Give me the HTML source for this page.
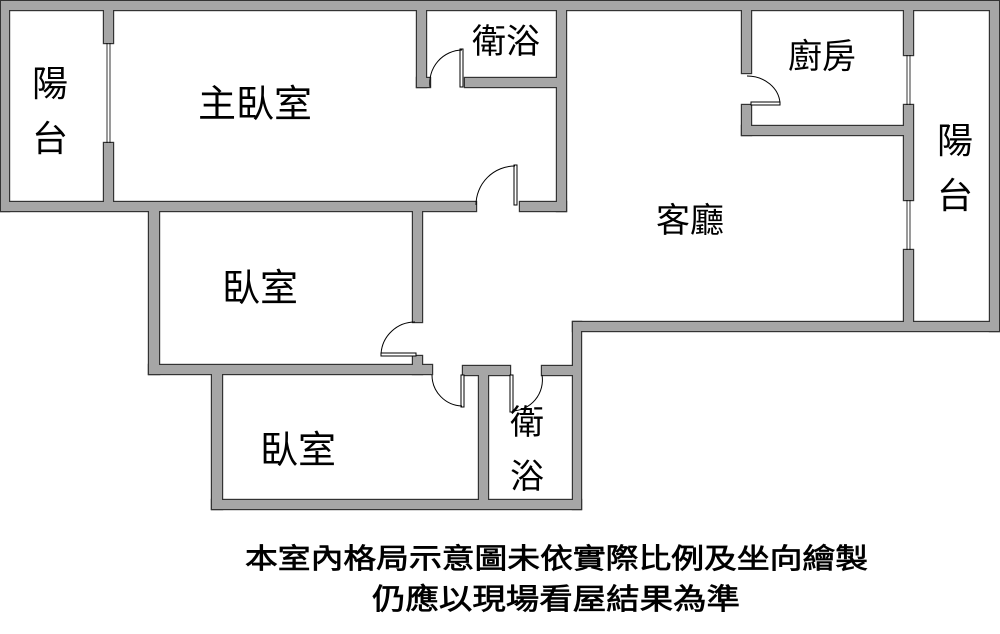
<!DOCTYPE html>
<html><head><meta charset="utf-8"><style>
html,body{margin:0;padding:0;background:#fff;}
svg{display:block;}
text{font-family:"Liberation Sans","Noto Sans CJK TC",sans-serif;fill:#000;}
.d{fill:#fff;stroke:#000;stroke-width:1;}
.a{fill:none;stroke:#000;stroke-width:1;}
.g{stroke:#000;stroke-width:0.8;}
</style></head><body>
<svg width="1000" height="634" viewBox="0 0 1000 634" xmlns="http://www.w3.org/2000/svg">
<defs>
<g id="walls">
<rect x="1" y="1" width="998" height="9"/>
<rect x="1" y="1" width="8" height="210"/>
<rect x="990" y="1" width="9" height="330"/>
<rect x="1" y="202" width="475" height="9"/>
<rect x="520" y="202" width="46" height="9"/>
<rect x="573" y="322" width="426" height="9"/>
<rect x="104" y="10" width="9" height="33"/>
<rect x="104" y="143" width="9" height="60"/>
<rect x="417" y="10" width="9" height="77"/>
<rect x="417" y="78" width="13" height="9"/>
<rect x="465" y="78" width="92" height="9"/>
<rect x="557" y="10" width="9" height="201"/>
<rect x="149" y="211" width="10" height="163"/>
<rect x="413" y="211" width="9" height="111"/>
<rect x="413" y="356" width="9" height="18"/>
<rect x="149" y="365" width="283" height="9"/>
<rect x="212" y="374" width="10" height="135"/>
<rect x="212" y="500" width="369" height="9"/>
<rect x="463" y="366" width="47" height="9"/>
<rect x="542" y="366" width="31" height="9"/>
<rect x="479" y="375" width="9" height="126"/>
<rect x="573" y="322" width="8" height="187"/>
<rect x="742" y="10" width="9" height="63"/>
<rect x="742" y="105" width="9" height="30"/>
<rect x="742" y="126" width="163" height="9"/>
<rect x="904" y="10" width="9" height="45"/>
<rect x="904" y="105" width="9" height="95"/>
<rect x="904" y="250" width="9" height="73"/>
</g>
</defs>
<use href="#walls" fill="#333" stroke="#333" stroke-width="2.4"/>
<use href="#walls" fill="#a6a6a6" stroke="none"/>
<line class="g" x1="107" y1="43" x2="107" y2="143"/><line class="g" x1="110" y1="43" x2="110" y2="143"/>
<line class="g" x1="907" y1="55" x2="907" y2="105"/><line class="g" x1="910" y1="55" x2="910" y2="105"/>
<line class="g" x1="907" y1="200" x2="907" y2="250"/><line class="g" x1="910" y1="200" x2="910" y2="250"/>
<!-- doors -->
<rect class="d" x="514" y="165" width="3" height="40"/>
<path class="a" d="M476 205 A39 39 0 0 1 515 166"/>
<rect class="d" x="460" y="49" width="3" height="38"/>
<path class="a" d="M430 87 A33 33 0 0 1 462 50"/>
<rect class="d" x="381" y="353" width="35" height="3"/>
<path class="a" d="M381 354 A34 34 0 0 1 415 322"/>
<rect class="d" x="461" y="375" width="3" height="32"/>
<path class="a" d="M432 375 A31 31 0 0 0 462 406"/>
<rect class="d" x="510" y="375" width="3" height="37"/>
<path class="a" d="M542 375 A31 31 0 0 1 512 411"/>
<rect class="d" x="751" y="102" width="29" height="3"/>
<path class="a" d="M747 76 A33 29 0 0 1 780 103"/>
<!-- labels -->
<g font-size="36">
<text x="50" y="96" text-anchor="middle">陽</text>
<text x="50" y="151" text-anchor="middle">台</text>
<text x="255" y="117" text-anchor="middle" font-size="38">主臥室</text>
<text x="506" y="53" text-anchor="middle" font-size="34">衛浴</text>
<text x="822" y="68" text-anchor="middle" font-size="34">廚房</text>
<text x="955" y="153" text-anchor="middle">陽</text>
<text x="955" y="208" text-anchor="middle">台</text>
<text x="690" y="232" text-anchor="middle" font-size="34">客廳</text>
<text x="260" y="301" text-anchor="middle" font-size="38">臥室</text>
<text x="298" y="463" text-anchor="middle" font-size="38">臥室</text>
<text x="527" y="434" text-anchor="middle" font-size="34">衛</text>
<text x="527" y="488" text-anchor="middle" font-size="34">浴</text>
</g>
<text x="245" y="568" font-size="28" stroke="#000" stroke-width="0.7" textLength="623" lengthAdjust="spacingAndGlyphs">本室內格局示意圖未依實際比例及坐向繪製</text>
<text x="372" y="609" font-size="29" stroke="#000" stroke-width="0.7" textLength="368" lengthAdjust="spacingAndGlyphs">仍應以現場看屋結果為準</text>
</svg>
</body></html>
